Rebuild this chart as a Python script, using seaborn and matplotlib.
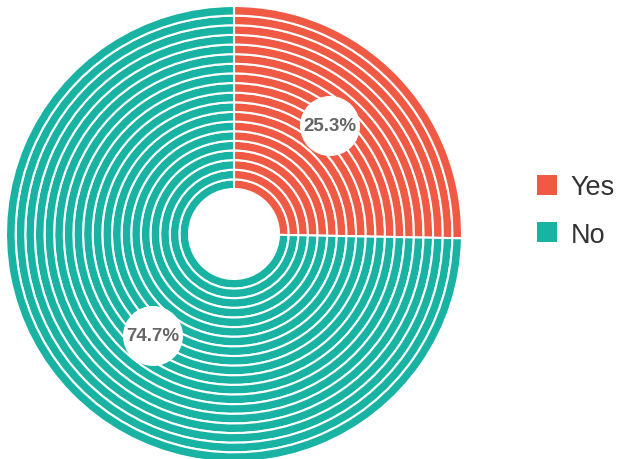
import matplotlib
matplotlib.use("Agg")
import matplotlib.pyplot as plt
from matplotlib.patches import Circle, Patch
import seaborn as sns

# Survey answers
categories = ["Yes", "No"]
shares = [25.3, 74.7]
label_texts = ["25.3%", "74.7%"]
colors = ["#F05A44", "#19B3A3"]

sns.set_theme(style="white")
plt.rcParams["font.family"] = ["Liberation Sans", "DejaVu Sans"]

W, H, DPI = 623, 460, 100
fig = plt.figure(figsize=(W / DPI, H / DPI), dpi=DPI)
fig.patch.set_facecolor("white")

# Donut geometry in pixels
cx, cy, R = 234, 235, 228
hole = 45
n_rings = 19

ax = fig.add_axes([(cx - R) / W, (H - cy - R) / H, 2 * R / W, 2 * R / H])
ax.set_xlim(-1, 1)
ax.set_ylim(-1, 1)
ax.set_aspect("equal")
ax.axis("off")

inner = hole / R
ring_w = (1 - inner) / n_rings
for i in range(n_rings):
    ax.pie(
        shares,
        colors=colors,
        radius=inner + (i + 1) * ring_w,
        startangle=90,
        counterclock=False,
        wedgeprops=dict(width=ring_w, edgecolor="white", linewidth=1.5),
        frame=False,
    )
ax.set_xlim(-1, 1)
ax.set_ylim(-1, 1)

# Percentage badges
badge_pos = [(96 / R, 108 / R), (-81 / R, -102 / R)]
for (x, y), txt in zip(badge_pos, label_texts):
    ax.add_patch(Circle((x, y), 30 / R, facecolor="white", edgecolor="none", zorder=5))
    ax.text(x, y, txt, ha="center", va="center", fontsize=13.5,
            fontweight="bold", color="#666666", zorder=6)

handles = [Patch(facecolor=c, edgecolor="none") for c in colors]
fig.legend(
    handles, categories,
    loc="center left",
    bbox_to_anchor=(537 / W, (H - 212) / H),
    frameon=False,
    fontsize=19.5,
    handlelength=0.75,
    handleheight=0.75,
    handletextpad=0.5,
    labelspacing=0.8,
    borderpad=0,
    borderaxespad=0,
    labelcolor="#333333",
)

fig.savefig("out.png", dpi=DPI, facecolor="white")
